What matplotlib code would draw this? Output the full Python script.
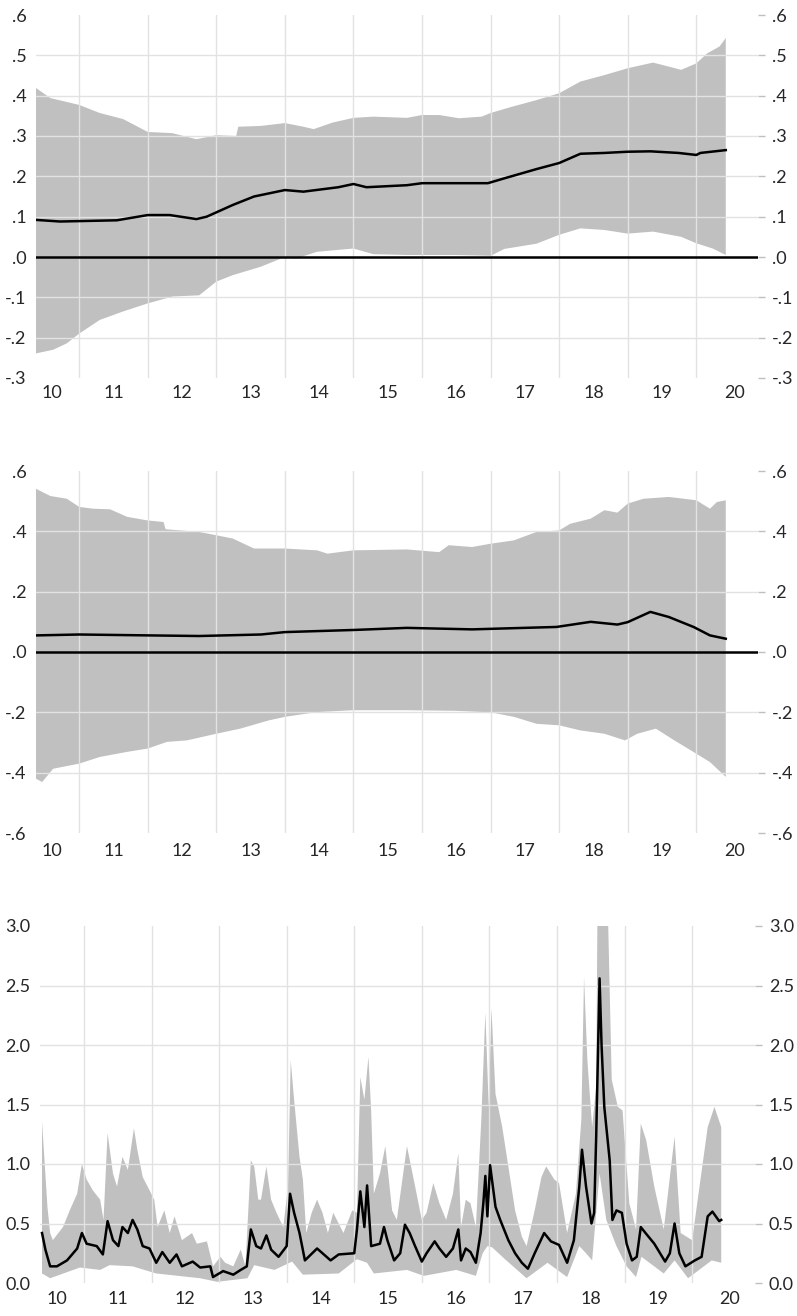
import numpy as np
import matplotlib
matplotlib.use("Agg")
from matplotlib import pyplot as plt

plt.rcParams['font.family'] = ['Lato', 'DejaVu Sans']
plt.rcParams['font.size'] = 13

BAND = '#c0c0c0'
GRID = '#e2e2e2'
TXT = '#262626'

# --- panel 1 -------------------------------------------------------------
p1_up_x = [2010.37, 2010.58, 2011.00, 2011.30, 2011.64, 2012.00, 2012.36, 2012.71, 2013.00,
           2013.29, 2013.32, 2013.65, 2014.00, 2014.27, 2014.42, 2014.69, 2015.00, 2015.29,
           2015.78, 2016.00, 2016.25, 2016.54, 2016.87, 2017.00, 2017.30, 2017.67, 2018.00,
           2018.31, 2018.66, 2019.00, 2019.37, 2019.60, 2019.78, 2020.00, 2020.16, 2020.34, 2020.43]
p1_up = [0.419, 0.394, 0.377, 0.357, 0.342, 0.310, 0.307, 0.292, 0.302,
         0.300, 0.323, 0.325, 0.332, 0.323, 0.317, 0.333, 0.345, 0.348,
         0.345, 0.352, 0.352, 0.344, 0.348, 0.357, 0.372, 0.389, 0.406,
         0.435, 0.451, 0.468, 0.482, 0.472, 0.464, 0.480, 0.505, 0.522, 0.543]
p1_lo_x = [2010.37, 2010.62, 2010.82, 2011.00, 2011.30, 2011.64, 2012.00, 2012.36, 2012.75,
           2013.00, 2013.24, 2013.65, 2014.00, 2014.16, 2014.47, 2015.00, 2015.29, 2015.78,
           2016.49, 2017.00, 2017.20, 2017.67, 2018.00, 2018.31, 2018.66, 2019.00, 2019.37,
           2019.78, 2020.00, 2020.24, 2020.43]
p1_lo = [-0.239, -0.230, -0.214, -0.190, -0.156, -0.135, -0.115, -0.098, -0.095,
         -0.061, -0.045, -0.024, 0.000, -0.004, 0.013, 0.021, 0.007, 0.005,
         0.005, 0.003, 0.020, 0.033, 0.055, 0.071, 0.067, 0.058, 0.063,
         0.050, 0.034, 0.021, 0.005]
p1_mid_x = [2010.37, 2010.72, 2011.00, 2011.55, 2012.00, 2012.32, 2012.71, 2012.86, 2013.24,
            2013.55, 2014.00, 2014.27, 2014.78, 2015.00, 2015.19, 2015.78, 2016.00, 2016.49,
            2016.96, 2017.20, 2017.67, 2018.00, 2018.31, 2018.66, 2019.00, 2019.33, 2019.74,
            2020.00, 2020.06, 2020.43]
p1_mid = [0.092, 0.088, 0.089, 0.091, 0.104, 0.104, 0.094, 0.100, 0.129,
          0.150, 0.166, 0.162, 0.173, 0.181, 0.173, 0.178, 0.183, 0.183,
          0.183, 0.195, 0.218, 0.233, 0.256, 0.258, 0.261, 0.262, 0.258,
          0.253, 0.258, 0.265]

# --- panel 2 -------------------------------------------------------------
p2_up_x = [2010.37, 2010.58, 2010.82, 2011.00, 2011.20, 2011.45, 2011.70, 2012.00, 2012.23,
           2012.26, 2012.75, 2013.00, 2013.24, 2013.55, 2014.00, 2014.47, 2014.62, 2015.00,
           2015.78, 2016.25, 2016.39, 2016.73, 2017.00, 2017.34, 2017.67, 2018.00, 2018.16,
           2018.46, 2018.66, 2018.85, 2019.00, 2019.23, 2019.60, 2020.00, 2020.20, 2020.30, 2020.43]
p2_up = [0.541, 0.517, 0.508, 0.481, 0.475, 0.473, 0.448, 0.436, 0.431,
         0.407, 0.398, 0.387, 0.376, 0.343, 0.343, 0.337, 0.326, 0.337,
         0.340, 0.331, 0.354, 0.348, 0.359, 0.370, 0.398, 0.403, 0.425,
         0.442, 0.470, 0.462, 0.492, 0.508, 0.514, 0.503, 0.475, 0.497, 0.503]
p2_lo_x = [2010.37, 2010.46, 2010.62, 2011.00, 2011.30, 2011.70, 2012.00, 2012.28, 2012.57,
           2013.00, 2013.35, 2013.76, 2014.00, 2014.47, 2015.00, 2015.78, 2016.49, 2017.00,
           2017.34, 2017.67, 2018.00, 2018.31, 2018.66, 2018.96, 2019.14, 2019.41, 2019.68,
           2020.00, 2020.20, 2020.43]
p2_lo = [-0.420, -0.431, -0.387, -0.370, -0.348, -0.331, -0.320, -0.298, -0.293,
         -0.271, -0.254, -0.227, -0.215, -0.199, -0.193, -0.193, -0.195, -0.200,
         -0.215, -0.238, -0.243, -0.260, -0.271, -0.293, -0.271, -0.254, -0.293,
         -0.337, -0.365, -0.414]
p2_mid_x = [2010.37, 2011.00, 2012.03, 2012.75, 2013.65, 2014.00, 2015.00, 2015.78, 2016.73,
            2017.49, 2017.96, 2018.46, 2018.85, 2019.00, 2019.33, 2019.60, 2019.96, 2020.20, 2020.43]
p2_mid = [0.055, 0.058, 0.055, 0.053, 0.058, 0.066, 0.073, 0.080, 0.075,
          0.080, 0.083, 0.100, 0.091, 0.099, 0.133, 0.116, 0.083, 0.055, 0.044]

# --- panel 3 -------------------------------------------------------------
p3_up_x = [2010.38, 2010.41, 2010.46, 2010.50, 2010.54, 2010.69, 2010.79, 2010.90, 2010.97,
           2011.04, 2011.13, 2011.24, 2011.29, 2011.35, 2011.43, 2011.49, 2011.57, 2011.65,
           2011.74, 2011.79, 2011.87, 2011.97, 2012.04, 2012.09, 2012.19, 2012.27, 2012.34,
           2012.45, 2012.60, 2012.67, 2012.82, 2012.91, 2013.02, 2013.09, 2013.21, 2013.32,
           2013.39, 2013.47, 2013.52, 2013.58, 2013.62, 2013.70, 2013.77, 2013.85, 2013.95,
           2014.02, 2014.06, 2014.11, 2014.19, 2014.24, 2014.29, 2014.37, 2014.45, 2014.53,
           2014.61, 2014.69, 2014.84, 2014.97, 2015.04, 2015.09, 2015.15, 2015.21, 2015.25,
           2015.29, 2015.38, 2015.46, 2015.56, 2015.63, 2015.78, 2015.88, 2016.00, 2016.07,
           2016.17, 2016.26, 2016.36, 2016.46, 2016.54, 2016.58, 2016.65, 2016.72, 2016.80,
           2016.88, 2016.94, 2016.99, 2017.03, 2017.09, 2017.19, 2017.28, 2017.38, 2017.48,
           2017.55, 2017.67, 2017.77, 2017.84, 2017.96, 2018.03, 2018.15, 2018.28, 2018.36,
           2018.40, 2018.45, 2018.52, 2018.58, 2018.60, 2018.75, 2018.81, 2018.90, 2018.97,
           2019.07, 2019.17, 2019.24, 2019.32, 2019.44, 2019.58, 2019.74, 2019.83, 2020.00,
           2020.23, 2020.33, 2020.43]
p3_up = [1.36, 1.09, 0.64, 0.42, 0.36, 0.47, 0.61, 0.75, 1.00,
         0.87, 0.78, 0.70, 0.53, 1.26, 0.92, 0.81, 1.06, 0.95,
         1.30, 1.12, 0.89, 0.78, 0.70, 0.47, 0.61, 0.42, 0.56,
         0.36, 0.42, 0.33, 0.35, 0.14, 0.22, 0.17, 0.14, 0.28,
         0.14, 1.03, 0.98, 0.70, 0.70, 0.98, 0.70, 0.59, 0.47,
         0.81, 1.87, 1.54, 1.06, 0.87, 0.42, 0.59, 0.70, 0.59,
         0.42, 0.59, 0.42, 0.61, 0.59, 1.73, 1.54, 1.90, 1.45,
         0.75, 0.92, 1.15, 0.61, 0.53, 1.15, 0.87, 0.53, 0.59,
         0.84, 0.67, 0.53, 0.75, 1.09, 0.47, 0.70, 0.67, 0.47,
         1.37, 2.27, 1.48, 2.31, 1.59, 1.31, 0.98, 0.61, 0.39,
         0.31, 0.61, 0.89, 0.98, 0.87, 0.84, 0.42, 0.75, 1.37,
         2.57, 1.87, 1.31, 1.65, 3.20, 3.20, 1.71, 1.48, 1.45,
         0.67, 0.45, 1.34, 1.20, 0.81, 0.45, 1.23, 0.42, 0.36,
         1.31, 1.48, 1.31]
p3_lo_x = [2010.38, 2010.50, 2010.94, 2011.24, 2011.38, 2011.72, 2012.07, 2012.72, 2012.97,
           2013.42, 2013.52, 2013.82, 2014.08, 2014.24, 2014.77, 2015.04, 2015.19, 2015.29,
           2015.78, 2016.03, 2016.51, 2016.80, 2016.90, 2016.97, 2017.04, 2017.23, 2017.55,
           2017.86, 2018.15, 2018.33, 2018.43, 2018.52, 2018.63, 2018.73, 2018.88, 2019.03,
           2019.17, 2019.25, 2019.58, 2019.74, 2019.94, 2020.29, 2020.43]
p3_lo = [0.08, 0.04, 0.13, 0.11, 0.15, 0.14, 0.08, 0.04, 0.01,
         0.04, 0.15, 0.11, 0.18, 0.07, 0.08, 0.20, 0.17, 0.08,
         0.11, 0.06, 0.11, 0.06, 0.25, 0.31, 0.30, 0.20, 0.04,
         0.17, 0.05, 0.31, 0.25, 0.19, 0.92, 0.53, 0.31, 0.14,
         0.05, 0.22, 0.08, 0.19, 0.04, 0.19, 0.17]
p3_mid_x = [2010.38, 2010.43, 2010.50, 2010.60, 2010.75, 2010.90, 2010.97, 2011.04, 2011.19,
            2011.28, 2011.35, 2011.43, 2011.51, 2011.57, 2011.65, 2011.72, 2011.79, 2011.87,
            2011.97, 2012.07, 2012.16, 2012.27, 2012.37, 2012.45, 2012.61, 2012.72, 2012.87,
            2012.91, 2013.06, 2013.21, 2013.32, 2013.41, 2013.47, 2013.55, 2013.62, 2013.70,
            2013.77, 2013.88, 2014.00, 2014.05, 2014.11, 2014.19, 2014.27, 2014.45, 2014.65,
            2014.77, 2015.00, 2015.04, 2015.09, 2015.15, 2015.19, 2015.25, 2015.38, 2015.44,
            2015.49, 2015.59, 2015.68, 2015.75, 2015.82, 2015.90, 2016.00, 2016.07, 2016.19,
            2016.26, 2016.36, 2016.46, 2016.54, 2016.58, 2016.65, 2016.72, 2016.80, 2016.87,
            2016.91, 2016.94, 2016.97, 2017.01, 2017.09, 2017.16, 2017.28, 2017.38, 2017.48,
            2017.57, 2017.67, 2017.81, 2017.91, 2018.03, 2018.15, 2018.25, 2018.33, 2018.37,
            2018.43, 2018.51, 2018.55, 2018.58, 2018.63, 2018.66, 2018.70, 2018.78, 2018.82,
            2018.88, 2018.96, 2019.03, 2019.11, 2019.18, 2019.24, 2019.31, 2019.44, 2019.60,
            2019.67, 2019.74, 2019.81, 2019.90, 2020.04, 2020.14, 2020.23, 2020.30, 2020.40,
            2020.43]
p3_mid = [0.42, 0.28, 0.14, 0.14, 0.19, 0.29, 0.42, 0.33, 0.31,
          0.24, 0.52, 0.36, 0.31, 0.47, 0.42, 0.53, 0.45, 0.31,
          0.29, 0.17, 0.26, 0.17, 0.24, 0.14, 0.18, 0.13, 0.14,
          0.05, 0.10, 0.07, 0.11, 0.14, 0.45, 0.31, 0.29, 0.40,
          0.28, 0.22, 0.31, 0.75, 0.59, 0.42, 0.19, 0.29, 0.19,
          0.24, 0.25, 0.45, 0.77, 0.47, 0.82, 0.31, 0.33, 0.47,
          0.36, 0.19, 0.25, 0.49, 0.42, 0.31, 0.18, 0.25, 0.35,
          0.29, 0.22, 0.29, 0.45, 0.19, 0.29, 0.26, 0.17, 0.42,
          0.67, 0.90, 0.56, 0.99, 0.64, 0.53, 0.36, 0.25, 0.17,
          0.12, 0.25, 0.42, 0.35, 0.32, 0.17, 0.36, 0.81, 1.12,
          0.81, 0.50, 0.59, 1.23, 2.56, 1.99, 1.48, 1.03, 0.53,
          0.61, 0.59, 0.33, 0.19, 0.22, 0.47, 0.42, 0.33, 0.18,
          0.25, 0.50, 0.25, 0.14, 0.19, 0.22, 0.56, 0.60, 0.52,
          0.53]

years = list(range(2011, 2021))
year_lab_pos = [2010.6, 2011.5, 2012.5, 2013.5, 2014.5, 2015.5, 2016.5, 2017.5, 2018.5, 2019.5, 2020.56]
year_lab = ['10', '11', '12', '13', '14', '15', '16', '17', '18', '19', '20']

p1_ticks = [-0.3, -0.2, -0.1, 0.0, 0.1, 0.2, 0.3, 0.4, 0.5, 0.6]
p2_ticks = [-0.6, -0.4, -0.2, 0.0, 0.2, 0.4, 0.6]
p3_ticks = [0.0, 0.5, 1.0, 1.5, 2.0, 2.5, 3.0]


def dot_fmt(v):
    s = f'{v:.1f}'
    return s.replace('0.', '.', 1)


def panel(rect, xlim, ylim, yticks, ylabels, up, lo, mid, zero, xpad):
    ax = fig.add_axes(rect)
    ax.fill(np.r_[up[0], lo[0][::-1]], np.r_[up[1], lo[1][::-1]],
            color=BAND, lw=0, zorder=1)
    if zero:
        ax.axhline(0, color='black', lw=1.8, zorder=4)
    ax.plot(mid[0], mid[1], color='black', lw=1.8, zorder=5)
    ax.set_xlim(*xlim)
    ax.set_ylim(*ylim)
    ax.set_xticks(years)
    ax.set_xticklabels([])
    ax.set_xticks(year_lab_pos, year_lab, minor=True)
    ax.tick_params(axis='x', which='both', length=0, pad=xpad, labelcolor=TXT)
    ax.set_yticks(yticks, ylabels)
    ax.tick_params(axis='y', length=0, pad=7, labelcolor=TXT)
    ax.set_axisbelow(False)
    ax.grid(True, which='major', color=GRID, lw=1.0, zorder=2)
    ygl = ax.get_ygridlines()
    ygl[0].set_visible(False)
    ygl[-1].set_visible(False)
    for s in ax.spines.values():
        s.set_visible(False)
    ax2 = ax.twinx()
    ax2.set_ylim(*ylim)
    ax2.set_yticks(yticks, ylabels)
    ax2.tick_params(axis='y', length=5, width=1, color='#bfbfbf', pad=5, labelcolor=TXT)
    for s in ax2.spines.values():
        s.set_visible(False)
    return ax


fig = plt.figure(figsize=(7.97, 13.16), dpi=100)

panel([36 / 797, 1 - 378 / 1316, 722 / 797, 363 / 1316], (2010.37, 2020.90), (-0.3, 0.6),
      p1_ticks, [dot_fmt(v) for v in p1_ticks],
      (p1_up_x, p1_up), (p1_lo_x, p1_lo), (p1_mid_x, p1_mid), True, 5)
panel([36 / 797, 1 - 833 / 1316, 722 / 797, 362 / 1316], (2010.37, 2020.90), (-0.6, 0.6),
      p2_ticks, [dot_fmt(v) for v in p2_ticks],
      (p2_up_x, p2_up), (p2_lo_x, p2_lo), (p2_mid_x, p2_mid), True, 7)
panel([40 / 797, 1 - 1283 / 1316, 715 / 797, 357 / 1316], (2010.35, 2020.93), (0.0, 3.0),
      p3_ticks, [f'{v:.1f}' for v in p3_ticks],
      (p3_up_x, p3_up), (p3_lo_x, p3_lo), (p3_mid_x, p3_mid), False, 6)

fig.savefig('out.png', dpi=100)
